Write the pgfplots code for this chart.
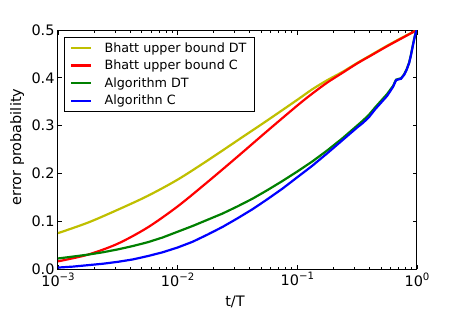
\documentclass[border=0pt]{standalone}
\usepackage{pgfplots}
\pgfplotsset{compat=1.18}
\usepackage{fontspec}
\setmainfont{DejaVu Sans}
\definecolor{mplyellow}{rgb}{0.75,0.75,0}
\definecolor{mplgreen}{rgb}{0,0.5,0}
\newcommand\tsup[1]{\raisebox{6bp}{\fontsize{10.2}{10.2}\selectfont #1}}
\begin{document}
\begin{tikzpicture}
\useasboundingbox (-58bp,-40bp) rectangle (405bp,269bp);
\begin{axis}[
  at={(0,0)}, anchor=south west,
  scale only axis, width=359bp, height=239bp,
  xmode=log, xmin=0.001, xmax=1, ymin=0, ymax=0.5,
  xtick={0.001,0.01,0.1,1},
  xticklabels={10\tsup{−3},10\tsup{−2},10\tsup{−1},10\tsup{0}},
  ytick={0,0.1,0.2,0.3,0.4,0.5},
  yticklabels={0.0,0.1,0.2,0.3,0.4,0.5},
  tick align=inside, xtick pos=both, ytick pos=both,
  major tick length=4.5bp, minor tick length=2.5bp,
  tick style={black, line width=0.8bp},
  axis line style={line width=1bp},
  ticklabel style={font=\fontsize{14.5}{16}\selectfont},
  xlabel={t/T}, ylabel={error probability},
  every axis x label/.style={at={(axis description cs:0.493,-0.137)}, anchor=center, font=\fontsize{14.5}{16}\selectfont},
  every axis y label/.style={at={(axis description cs:-0.114,0.51)}, anchor=center, rotate=90, font=\fontsize{14.5}{16}\selectfont},
  legend image code/.code={\draw[#1, line width=2.2bp] (0bp,0bp) -- (20bp,0bp);},
  legend cell align=left,
  legend style={at={(axis description cs:0.0167,0.9707)}, anchor=north west,
    draw=black, line width=0.8bp, font=\fontsize{12.8}{14}\selectfont,
    inner xsep=6bp, inner ysep=3bp, row sep=2.4bp, column sep=10bp,
    nodes={inner sep=2bp}},
  every axis plot/.append style={line width=2.2bp},
]
\addplot[mplyellow, smooth] coordinates {
(0.001,0.075) (0.001778,0.097) (0.003162,0.124) (0.005623,0.153) (0.01,0.187)
(0.01778,0.227) (0.03162,0.269) (0.05623,0.311) (0.1,0.354) (0.1334,0.376)
(0.1778,0.395) (0.2371,0.412) (0.3162,0.431) (0.4217,0.449) (0.5623,0.467)
(0.7499,0.484) (1,0.5)};
\addlegendentry{Bhatt upper bound DT}
\addplot[red, smooth] coordinates {
(0.001,0.016) (0.001778,0.030) (0.003162,0.053) (0.005623,0.087) (0.01,0.131)
(0.01778,0.182) (0.03162,0.235) (0.05623,0.289) (0.1,0.342) (0.1334,0.367)
(0.1778,0.390) (0.2371,0.410) (0.3162,0.430) (0.4217,0.448) (0.5623,0.466)
(0.7499,0.483) (1,0.5)};
\addlegendentry{Bhatt upper bound C}
\addplot[mplgreen] coordinates {
(0.001,0.022) (0.001334,0.026) (0.001778,0.030) (0.002371,0.035) (0.003162,0.041)
(0.004217,0.048) (0.005623,0.056) (0.007499,0.066) (0.01,0.078) (0.01334,0.090)
(0.01778,0.103) (0.02371,0.116) (0.03162,0.131) (0.04217,0.147) (0.05623,0.165)
(0.07499,0.184) (0.1,0.204) (0.1334,0.225) (0.1778,0.248) (0.2371,0.273)
(0.3162,0.300) (0.3548,0.311) (0.3981,0.323) (0.4467,0.338) (0.5012,0.352)
(0.5623,0.366) (0.631,0.383) (0.668,0.396) (0.708,0.398) (0.735,0.399)
(0.78,0.407) (0.82,0.418) (0.86,0.432) (0.89,0.448) (0.93,0.472) (0.96,0.488)
(0.985,0.498) (1,0.5)};
\addlegendentry{Algorithm DT}
\addplot[blue] coordinates {
(0.001,0.003) (0.001334,0.005) (0.001778,0.008) (0.002371,0.011) (0.003162,0.015)
(0.004217,0.020) (0.005623,0.027) (0.007499,0.035) (0.01,0.045) (0.01334,0.057)
(0.01778,0.072) (0.02371,0.088) (0.03162,0.106) (0.04217,0.125) (0.05623,0.146)
(0.07499,0.168) (0.1,0.192) (0.1334,0.216) (0.1778,0.242) (0.2371,0.269)
(0.3162,0.296) (0.3548,0.306) (0.3981,0.318) (0.4467,0.334) (0.5012,0.348)
(0.5623,0.362) (0.631,0.381) (0.668,0.395) (0.708,0.397) (0.735,0.398)
(0.78,0.406) (0.82,0.417) (0.86,0.431) (0.89,0.447) (0.93,0.471) (0.96,0.487)
(0.985,0.497) (1,0.5)};
\addlegendentry{Algorithn C}
\end{axis}
\end{tikzpicture}
\end{document}
